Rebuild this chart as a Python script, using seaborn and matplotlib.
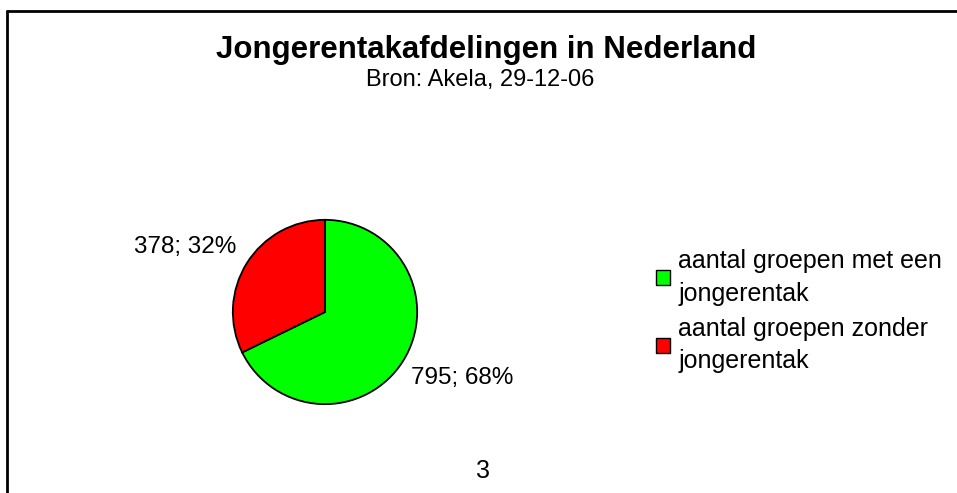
import matplotlib
matplotlib.use("Agg")
import matplotlib.pyplot as plt
import matplotlib.patches as mpatches
import seaborn as sns

sns.set_theme(style="white")
plt.rcParams['font.family'] = ['Liberation Sans', 'DejaVu Sans']
plt.rcParams['text.color'] = 'black'

# data
categories = ['aantal groepen met een\njongerentak', 'aantal groepen zonder\njongerentak']
counts = [795, 378]
colors = ['#00ff00', '#ff0000']
title = 'Jongerentakafdelingen in Nederland'
subtitle = 'Bron: Akela, 29-12-06'
xlabel = '3'

total = sum(counts)
labels = [f'{c}; {round(100 * c / total)}%' for c in counts]

W, H = 957, 493
fig = plt.figure(figsize=(W / 100, H / 100), dpi=100)
fig.patch.set_facecolor('white')

# pie axes, center (325, 312) px, radius 94 px
cx, cy, r = 325, 312, 94
ax = fig.add_axes([(cx - r) / W, (H - cy - r) / H, 2 * r / W, 2 * r / H])
wedges, texts = ax.pie(
    counts, colors=colors, labels=labels, startangle=90, counterclock=False,
    radius=1,
    wedgeprops=dict(edgecolor='black', linewidth=1.3),
    textprops=dict(fontsize=17.5, color='black'),
)
# data label placement (Excel style: closer to the pie horizontally)
texts[0].set_position((88 / r, -67 / r))
texts[0].set_ha('left')
texts[0].set_va('center')
texts[1].set_position((-90 / r, 66 / r))
texts[1].set_ha('right')
texts[1].set_va('center')
ax.set_xlim(-1.02, 1.02)
ax.set_ylim(-1.02, 1.02)
ax.set_aspect('equal')

# frame lines (top and left only)
fig.add_artist(plt.Line2D([7 / W, 1], [1 - 11 / H, 1 - 11 / H], color='black', lw=2))
fig.add_artist(plt.Line2D([7 / W, 7 / W], [0, 1 - 11 / H], color='black', lw=2))

fig.text(486 / W, 1 - 50 / H, title, ha='center', va='center', fontsize=22.5, fontweight='bold')
fig.text(480 / W, 1 - 80 / H, subtitle, ha='center', va='center', fontsize=17)
fig.text(483 / W, 1 - 471 / H, xlabel, ha='center', va='center', fontsize=18)

handles = [mpatches.Patch(facecolor=c, edgecolor='black', linewidth=1) for c in colors]
leg = fig.legend(handles, categories, loc='upper left', bbox_to_anchor=(656 / W, 1 - 249 / H),
                 frameon=False, fontsize=18, handlelength=0.55, handleheight=0.55,
                 handletextpad=0.35, labelspacing=0.45, borderpad=0, borderaxespad=0)
for t in leg.get_texts():
    t.set_linespacing(1.45)

fig.savefig('out.png', dpi=100, facecolor='white')
